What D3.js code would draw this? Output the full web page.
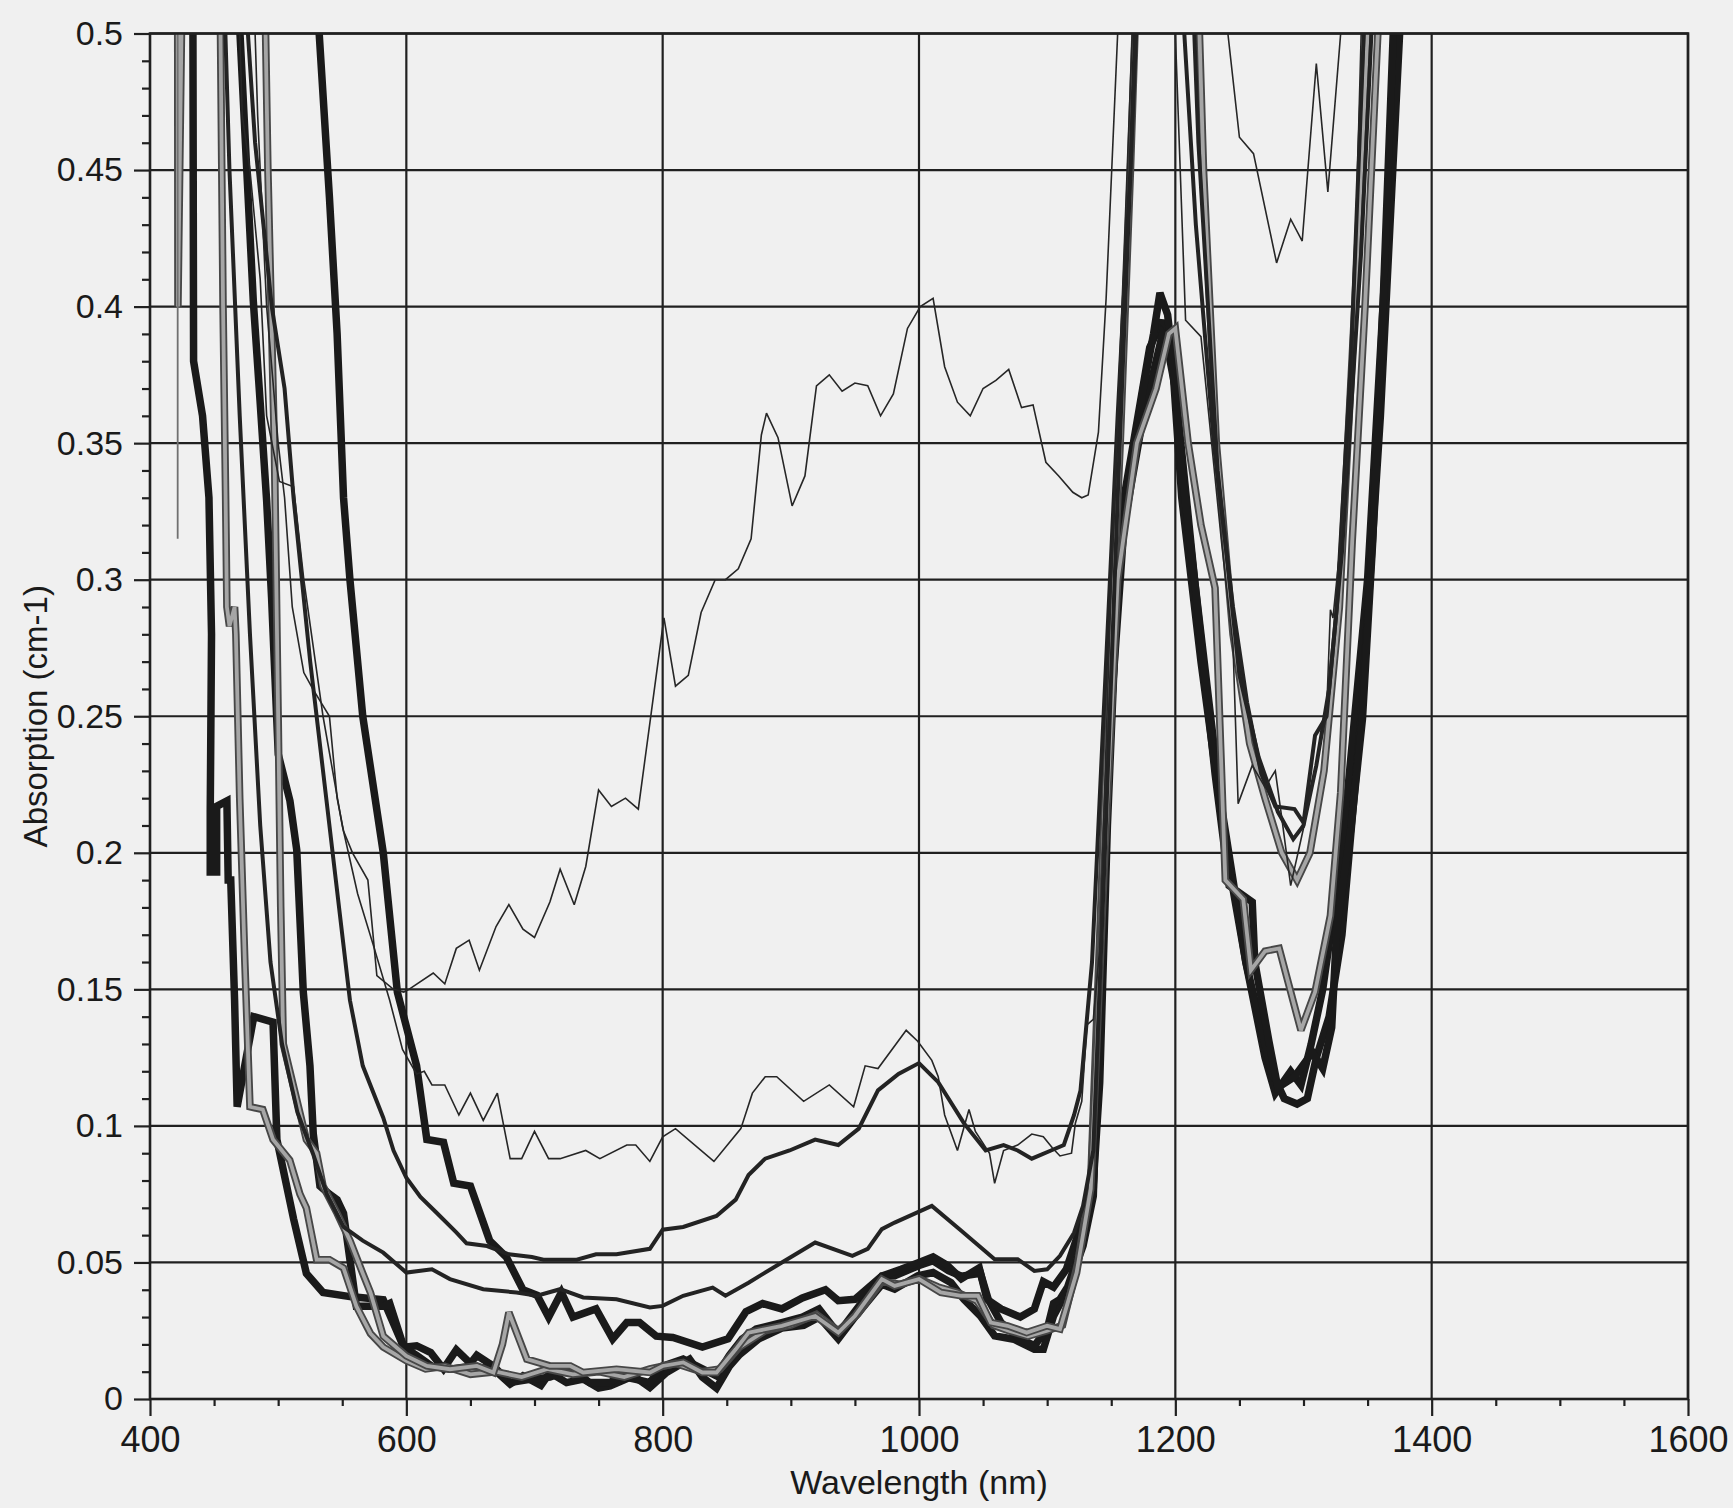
<!DOCTYPE html>
<html>
<head>
<meta charset="utf-8">
<script src="https://cdn.jsdelivr.net/npm/d3@7"></script>
<style>
  html, body { margin: 0; padding: 0; background: #f0f0f0; }
  svg { display: block; }
  text { font-family: "Liberation Sans", Arial, Helvetica, sans-serif; fill: #1a1a1a; }
</style>
</head>
<body>
<svg id="chart" width="1733" height="1508"></svg>
<script>
// Axis ticks and labels
const xTicks = [400, 600, 800, 1000, 1200, 1400, 1600];
const xTickLabels = ["400", "600", "800", "1000", "1200", "1400", "1600"];
const yTicks = [0, 0.05, 0.1, 0.15, 0.2, 0.25, 0.3, 0.35, 0.4, 0.45, 0.5];
const yTickLabels = ["0", "0.05", "0.1", "0.15", "0.2", "0.25", "0.3", "0.35", "0.4", "0.45", "0.5"];

// Absorption spectra: [wavelength nm, absorption cm-1]
const thinRising = [
  [478,0.56],[484,0.47],[491,0.40],[500,0.35],[505,0.33],[511,0.29],[520,0.266],[527,0.26],[540,0.25],
  [546,0.22],[551,0.208],[558,0.200],[570,0.19],[577,0.155],[590,0.150],[598,0.149],[602,0.150],
  [621,0.156],[630,0.152],[639,0.165],[649,0.168],[657,0.157],[670,0.173],[680,0.181],[691,0.172],
  [700,0.169],[712,0.182],[720,0.194],[731,0.181],[740,0.195],[750,0.223],[760,0.217],[771,0.220],
  [781,0.216],[791,0.251],[801,0.286],[810,0.261],[820,0.265],[830,0.288],[841,0.300],[849,0.300],
  [859,0.304],[869,0.315],[877,0.353],[881,0.361],[890,0.352],[901,0.327],[911,0.338],[920,0.371],
  [930,0.375],[940,0.369],[950,0.372],[960,0.371],[970,0.360],[980,0.368],[991,0.392],[1001,0.400],
  [1011,0.403],[1020,0.378],[1030,0.365],[1040,0.360],[1050,0.370],[1060,0.373],[1070,0.377],
  [1080,0.363],[1089,0.364],[1099,0.343],[1109,0.338],[1120,0.332],[1127,0.330],[1132,0.331],
  [1140,0.354],[1146,0.403],[1155,0.50],[1160,0.56],[1236,0.56],[1241,0.50],[1250,0.462],
  [1261,0.456],[1279,0.416],[1290,0.432],[1299,0.424],[1310,0.489],[1319,0.442],[1329,0.50],[1333,0.56]
];

const thinFlat = [
  [466,0.56],[472,0.47],[478,0.45],[486,0.41],[491,0.36],[501,0.336],[512,0.334],[520,0.30],[535,0.25],
  [550,0.21],[562,0.185],[575,0.165],[587,0.146],[597,0.128],[608,0.119],[614,0.120],[620,0.115],
  [630,0.115],[641,0.104],[650,0.112],[660,0.102],[671,0.112],[681,0.088],[690,0.088],[700,0.098],
  [711,0.088],[720,0.088],[740,0.091],[751,0.088],[772,0.093],[779,0.093],[790,0.087],[800,0.096],
  [810,0.099],[840,0.087],[861,0.099],[870,0.112],[880,0.118],[889,0.118],[910,0.109],[930,0.115],
  [949,0.107],[958,0.122],[968,0.121],[990,0.135],[999,0.131],[1010,0.124],[1015,0.118],[1020,0.104],
  [1030,0.091],[1039,0.106],[1044,0.098],[1055,0.090],[1059,0.079],[1066,0.091],[1077,0.093],
  [1088,0.097],[1097,0.096],[1104,0.092],[1110,0.089],[1119,0.090],[1122,0.101],[1127,0.109],
  [1131,0.137],[1136,0.139],[1141,0.165],[1150,0.30],[1160,0.42],[1168,0.52],[1198,0.56],[1200,0.50],
  [1208,0.395],[1220,0.389],[1236,0.314],[1245,0.276],[1249,0.218],[1260,0.232],[1270,0.224],
  [1278,0.230],[1283,0.213],[1290,0.188],[1300,0.209],[1318,0.251],[1321,0.289],[1323,0.286],
  [1329,0.314],[1337,0.36],[1345,0.50],[1348,0.56]
];

const mediumUpper = [
  [468,0.56],[482,0.46],[495,0.40],[505,0.37],[512,0.33],[525,0.27],[535,0.23],[545,0.19],[556,0.146],
  [566,0.122],[582,0.103],[590,0.091],[600,0.081],[611,0.074],[624,0.068],[639,0.061],[647,0.057],
  [663,0.056],[680,0.053],[698,0.052],[707,0.051],[733,0.051],[748,0.053],[764,0.053],[790,0.055],
  [800,0.062],[816,0.063],[842,0.067],[857,0.073],[867,0.082],[880,0.088],[899,0.091],[919,0.095],
  [937,0.093],[953,0.099],[968,0.113],[984,0.119],[1000,0.123],[1015,0.116],[1035,0.101],[1052,0.091],
  [1066,0.093],[1077,0.091],[1088,0.088],[1103,0.091],[1113,0.093],[1121,0.104],[1126,0.113],
  [1135,0.16],[1145,0.26],[1155,0.36],[1165,0.45],[1172,0.53],[1200,0.56],[1207,0.50],[1216,0.43],
  [1230,0.35],[1245,0.29],[1256,0.255],[1267,0.229],[1278,0.217],[1293,0.216],[1300,0.211],
  [1309,0.243],[1318,0.25],[1326,0.29],[1337,0.38],[1347,0.50],[1351,0.56]
];

const mediumLower = [
  [455,0.56],[462,0.45],[470,0.36],[478,0.28],[486,0.21],[494,0.16],[503,0.13],[515,0.105],[527,0.09],
  [538,0.075],[551,0.063],[566,0.058],[582,0.0536],[600,0.0463],[620,0.0475],[634,0.0439],[660,0.0402],
  [686,0.039],[702,0.0378],[720,0.0402],[738,0.0372],[764,0.0365],[790,0.0335],[800,0.0341],
  [816,0.0378],[839,0.0408],[849,0.0378],[867,0.0426],[893,0.050],[919,0.0573],[948,0.0524],
  [960,0.055],[971,0.0622],[981,0.0646],[1010,0.0707],[1033,0.0616],[1059,0.0512],[1077,0.0512],
  [1090,0.0469],[1100,0.0475],[1110,0.0524],[1121,0.0609],[1128,0.0707],[1136,0.091],[1145,0.20],
  [1155,0.33],[1165,0.45],[1172,0.55],[1210,0.56],[1218,0.46],[1233,0.34],[1250,0.265],[1265,0.235],
  [1280,0.215],[1292,0.205],[1300,0.21],[1310,0.232],[1320,0.26],[1330,0.31],[1345,0.42],[1353,0.50],[1357,0.56]
];

const thickA = [
  [528,0.56],[532,0.50],[540,0.44],[546,0.39],[551,0.33],[556,0.30],[566,0.25],[582,0.20],[593,0.149],
  [608,0.122],[616,0.095],[629,0.094],[637,0.079],[650,0.078],[665,0.058],[678,0.052],[691,0.040],
  [702,0.038],[711,0.030],[721,0.039],[730,0.030],[748,0.033],[761,0.022],[772,0.028],[782,0.028],
  [795,0.023],[808,0.0225],[831,0.019],[851,0.022],[865,0.032],[878,0.035],[893,0.033],[909,0.037],
  [927,0.040],[937,0.036],[950,0.0365],[971,0.045],[986,0.0475],[1000,0.050],[1011,0.052],[1022,0.049],
  [1033,0.044],[1047,0.048],[1053,0.0365],[1064,0.033],[1079,0.030],[1090,0.033],[1097,0.043],
  [1105,0.041],[1115,0.0475],[1126,0.063],[1136,0.079],[1141,0.116],[1147,0.21],[1155,0.30],
  [1165,0.34],[1175,0.37],[1183,0.39],[1188,0.405],[1194,0.397],[1198,0.38],[1205,0.34],[1215,0.30],
  [1231,0.229],[1242,0.188],[1260,0.182],[1262,0.160],[1273,0.131],[1280,0.114],[1293,0.118],
  [1307,0.127],[1315,0.121],[1322,0.136],[1326,0.173],[1337,0.209],[1346,0.249],[1354,0.314],
  [1362,0.40],[1370,0.50],[1374,0.56]
];

const thickB = [
  [433,0.56],[433.5,0.50],[434,0.38],[441,0.36],[446,0.33],[448,0.28],[447,0.215],[447,0.193],
  [452,0.193],[452,0.217],[460,0.219],[461,0.19],[463,0.19],[466,0.146],[468,0.107],[481,0.140],
  [496,0.138],[499,0.095],[512,0.066],[522,0.046],[535,0.039],[556,0.0375],[582,0.0363],[598,0.019],
  [608,0.016],[620,0.012],[634,0.0109],[650,0.012],[668,0.011],[681,0.0055],[691,0.0085],[705,0.005],
  [712,0.0097],[725,0.006],[738,0.0073],[750,0.004],[759,0.0048],[770,0.007],[777,0.0085],[790,0.0042],
  [803,0.0097],[821,0.0146],[831,0.008],[842,0.004],[852,0.012],[860,0.0163],[875,0.022],[893,0.026],
  [910,0.027],[922,0.030],[937,0.022],[950,0.030],[971,0.042],[981,0.0402],[999,0.0451],[1011,0.0463],
  [1025,0.0426],[1035,0.0365],[1048,0.0304],[1059,0.0231],[1074,0.0219],[1090,0.0182],[1097,0.0182],
  [1105,0.0304],[1116,0.0402],[1128,0.0561],[1136,0.0743],[1147,0.25],[1160,0.33],[1180,0.385],
  [1190,0.395],[1200,0.37],[1215,0.30],[1235,0.22],[1255,0.16],[1270,0.125],[1278,0.112],[1290,0.12],
  [1298,0.115],[1306,0.13],[1315,0.15],[1330,0.20],[1350,0.30],[1368,0.45],[1375,0.52],[1378,0.56]
];

const thickC = [
  [469,0.56],[470.2,0.50],[475.4,0.451],[480.6,0.402],[485.8,0.366],[491,0.329],[494.9,0.293],
  [498.8,0.25],[500.1,0.236],[509.2,0.219],[514.5,0.201],[519.6,0.149],[524.8,0.122],[527.4,0.097],
  [532.6,0.078],[540,0.075],[546,0.073],[551,0.068],[561,0.034],[582,0.034],[587,0.035],[598,0.019],
  [608,0.0195],[619,0.017],[629,0.011],[639,0.018],[650,0.013],[655,0.016],[668,0.012],[681,0.006],
  [694,0.007],[712,0.008],[722,0.0097],[733,0.0097],[743,0.006],[759,0.006],[766,0.0085],[779,0.0072],
  [790,0.006],[800,0.012],[816,0.0146],[831,0.011],[842,0.0085],[852,0.016],[862,0.022],[873,0.0256],
  [893,0.028],[909,0.030],[922,0.033],[937,0.024],[950,0.032],[971,0.045],[981,0.0451],[999,0.0487],
  [1011,0.0506],[1023,0.047],[1033,0.045],[1048,0.046],[1054,0.0365],[1064,0.028],[1079,0.022],
  [1090,0.0195],[1100,0.0256],[1105,0.035],[1110,0.0365],[1116,0.041],[1126,0.055],[1136,0.077],
  [1145,0.22],[1160,0.32],[1175,0.36],[1185,0.38],[1190,0.39],[1197,0.385],[1205,0.33],[1220,0.27],
  [1240,0.20],[1255,0.16],[1265,0.14],[1275,0.12],[1285,0.11],[1295,0.108],[1303,0.11],[1310,0.125],
  [1320,0.14],[1330,0.17],[1345,0.25],[1360,0.36],[1375,0.50],[1380,0.56]
];

const grayA = [
  [488,0.56],[492,0.45],[497,0.35],[500,0.25],[502,0.18],[504,0.13],[522,0.095],[530,0.09],[535,0.078],
  [546,0.068],[556,0.058],[566,0.046],[572,0.039],[582,0.023],[600,0.0158],[616,0.0121],[634,0.0109],
  [655,0.0121],[668,0.0097],[675,0.020],[680,0.0317],[689,0.0207],[694,0.0146],[712,0.0121],
  [728,0.0121],[738,0.0097],[764,0.0109],[790,0.0097],[800,0.0121],[816,0.0134],[831,0.0097],
  [842,0.0097],[857,0.0182],[867,0.0243],[893,0.0268],[919,0.0304],[937,0.0243],[950,0.0304],
  [971,0.0439],[981,0.0414],[1000,0.0439],[1017,0.039],[1033,0.0378],[1046,0.0378],[1056,0.028],
  [1069,0.0268],[1084,0.0243],[1100,0.0268],[1110,0.0256],[1123,0.0463],[1134,0.077],[1145,0.20],
  [1155,0.30],[1170,0.35],[1185,0.37],[1195,0.39],[1200,0.392],[1210,0.35],[1220,0.32],[1231,0.297],
  [1239,0.19],[1253,0.183],[1259,0.157],[1270,0.164],[1281,0.165],[1298,0.135],[1309,0.149],
  [1321,0.177],[1329,0.222],[1338,0.314],[1348,0.40],[1358,0.50],[1362,0.56]
];

const grayB = [
  [452,0.56],[455,0.50],[457,0.40],[459,0.33],[460,0.29],[462,0.283],[466,0.29],[467,0.28],[470,0.22],
  [474,0.16],[477,0.12],[478,0.107],[488,0.106],[496,0.095],[509,0.0875],[517,0.075],[522,0.070],
  [530,0.051],[540,0.051],[551,0.048],[561,0.034],[572,0.024],[582,0.019],[600,0.014],[615,0.011],
  [630,0.012],[650,0.009],[670,0.010],[690,0.008],[710,0.011],[730,0.009],[750,0.010],[770,0.008],
  [790,0.011],[810,0.013],[830,0.010],[845,0.011],[860,0.019],[880,0.025],[900,0.027],[920,0.031],
  [937,0.025],[952,0.031],[971,0.043],[985,0.042],[1000,0.044],[1015,0.041],[1030,0.039],[1045,0.036],
  [1058,0.027],[1070,0.025],[1085,0.023],[1100,0.025],[1112,0.027],[1124,0.050],[1134,0.080],
  [1145,0.22],[1157,0.35],[1165,0.45],[1172,0.55],[1215,0.56],[1222,0.45],[1232,0.35],[1245,0.28],
  [1258,0.24],[1270,0.22],[1283,0.20],[1295,0.19],[1305,0.20],[1316,0.23],[1328,0.29],[1340,0.40],
  [1350,0.50],[1355,0.56]
];

const grayEdge = [[421.5,0.56],[421.8,0.40],[426.2,0.56]];
const thinGrayEdge = [[421.6,0.56],[421.6,0.315]];

// Line styles
const styles = {
  thickBlack: [{ color: "#1a1a1a", width: 7.5 }],
  gray: [{ color: "#474747", width: 7.5 }, { color: "#a6a6a6", width: 3.8 }],
  medium: [{ color: "#232323", width: 4 }],
  thin: [{ color: "#262626", width: 1.6 }],
  thinGray: [{ color: "#707070", width: 1.8 }]
};

// Drawing order (back to front)
const series = [
  { data: grayEdge, style: "gray" },
  { data: thinGrayEdge, style: "thinGray" },
  { data: thickB, style: "thickBlack" },
  { data: thickC, style: "thickBlack" },
  { data: thickA, style: "thickBlack" },
  { data: grayB, style: "gray" },
  { data: grayA, style: "gray" },
  { data: mediumLower, style: "medium" },
  { data: mediumUpper, style: "medium" },
  { data: thinFlat, style: "thin" },
  { data: thinRising, style: "thin" }
];

const svg = d3.select("#chart");
svg.append("rect").attr("width", 1733).attr("height", 1508).attr("fill", "#f0f0f0");

const x = d3.scaleLinear().domain([400, 1600]).range([150, 1688]);
const y = d3.scaleLinear().domain([0, 0.5]).range([1399, 33.5]);

const gridColor = "#202020";

// Grid
const grid = svg.append("g");
grid.selectAll("line.gx").data(xTicks.slice(1)).enter().append("line")
  .attr("x1", d => x(d)).attr("x2", d => x(d))
  .attr("y1", y(0)).attr("y2", y(0.5))
  .attr("stroke", gridColor).attr("stroke-width", 2.2);
grid.selectAll("line.gy").data(yTicks.slice(1)).enter().append("line")
  .attr("x1", x(400)).attr("x2", x(1600))
  .attr("y1", d => y(d)).attr("y2", d => y(d))
  .attr("stroke", gridColor).attr("stroke-width", 2.2);

// Spectra, clipped to the plot frame
svg.append("clipPath").attr("id", "plotClip").append("rect")
  .attr("x", x(400)).attr("y", y(0.5))
  .attr("width", x(1600) - x(400)).attr("height", y(0) - y(0.5));

const line = d3.line().x(d => x(d[0])).y(d => y(d[1]));
const plot = svg.append("g").attr("clip-path", "url(#plotClip)");
series.forEach(s => {
  styles[s.style].forEach(st => {
    plot.append("path").datum(s.data)
      .attr("d", line)
      .attr("fill", "none")
      .attr("stroke", st.color)
      .attr("stroke-width", st.width)
      .attr("stroke-linejoin", "miter")
      .attr("stroke-miterlimit", 3);
  });
});

// Axes
const minorY = d3.range(0.01, 0.5, 0.01).filter(v => Math.abs(v / 0.05 - Math.round(v / 0.05)) > 1e-6);
const minorX = d3.range(450, 1600, 50).filter(v => v % 200 !== 0);

const yAxis = svg.append("g").attr("transform", `translate(${x(400)},0)`)
  .call(d3.axisLeft(y).tickValues(yTicks).tickSize(16).tickPadding(11)
    .tickFormat((d, i) => yTickLabels[i]));
const yMinor = svg.append("g").attr("transform", `translate(${x(400)},0)`)
  .call(d3.axisLeft(y).tickValues(minorY).tickSize(8).tickFormat(""));

const xAxis = svg.append("g").attr("transform", `translate(0,${y(0)})`)
  .call(d3.axisBottom(x).tickValues(xTicks).tickSize(17).tickPadding(10)
    .tickFormat((d, i) => xTickLabels[i]));
const xMinor = svg.append("g").attr("transform", `translate(0,${y(0)})`)
  .call(d3.axisBottom(x).tickValues(minorX).tickSize(7).tickFormat(""));

[yAxis, yMinor, xAxis, xMinor].forEach(g => {
  g.select(".domain").remove();
  g.selectAll(".tick line").attr("stroke", gridColor).attr("stroke-width", 2.2);
});
yAxis.selectAll("text").attr("font-size", 34).attr("fill", "#1a1a1a")
  .attr("font-family", "Liberation Sans, Arial, sans-serif");
xAxis.selectAll("text").attr("font-size", 36).attr("fill", "#1a1a1a")
  .attr("font-family", "Liberation Sans, Arial, sans-serif");

// Frame
svg.append("rect")
  .attr("x", x(400)).attr("y", y(0.5))
  .attr("width", x(1600) - x(400)).attr("height", y(0) - y(0.5))
  .attr("fill", "none").attr("stroke", gridColor).attr("stroke-width", 2.6);

// Axis titles
svg.append("text")
  .attr("transform", `translate(47,${(y(0) + y(0.5)) / 2}) rotate(-90)`)
  .attr("text-anchor", "middle")
  .attr("font-size", 33)
  .text("Absorption (cm-1)");

svg.append("text")
  .attr("x", (x(400) + x(1600)) / 2)
  .attr("y", 1494)
  .attr("text-anchor", "middle")
  .attr("font-size", 34)
  .text("Wavelength (nm)");
</script>
</body>
</html>
